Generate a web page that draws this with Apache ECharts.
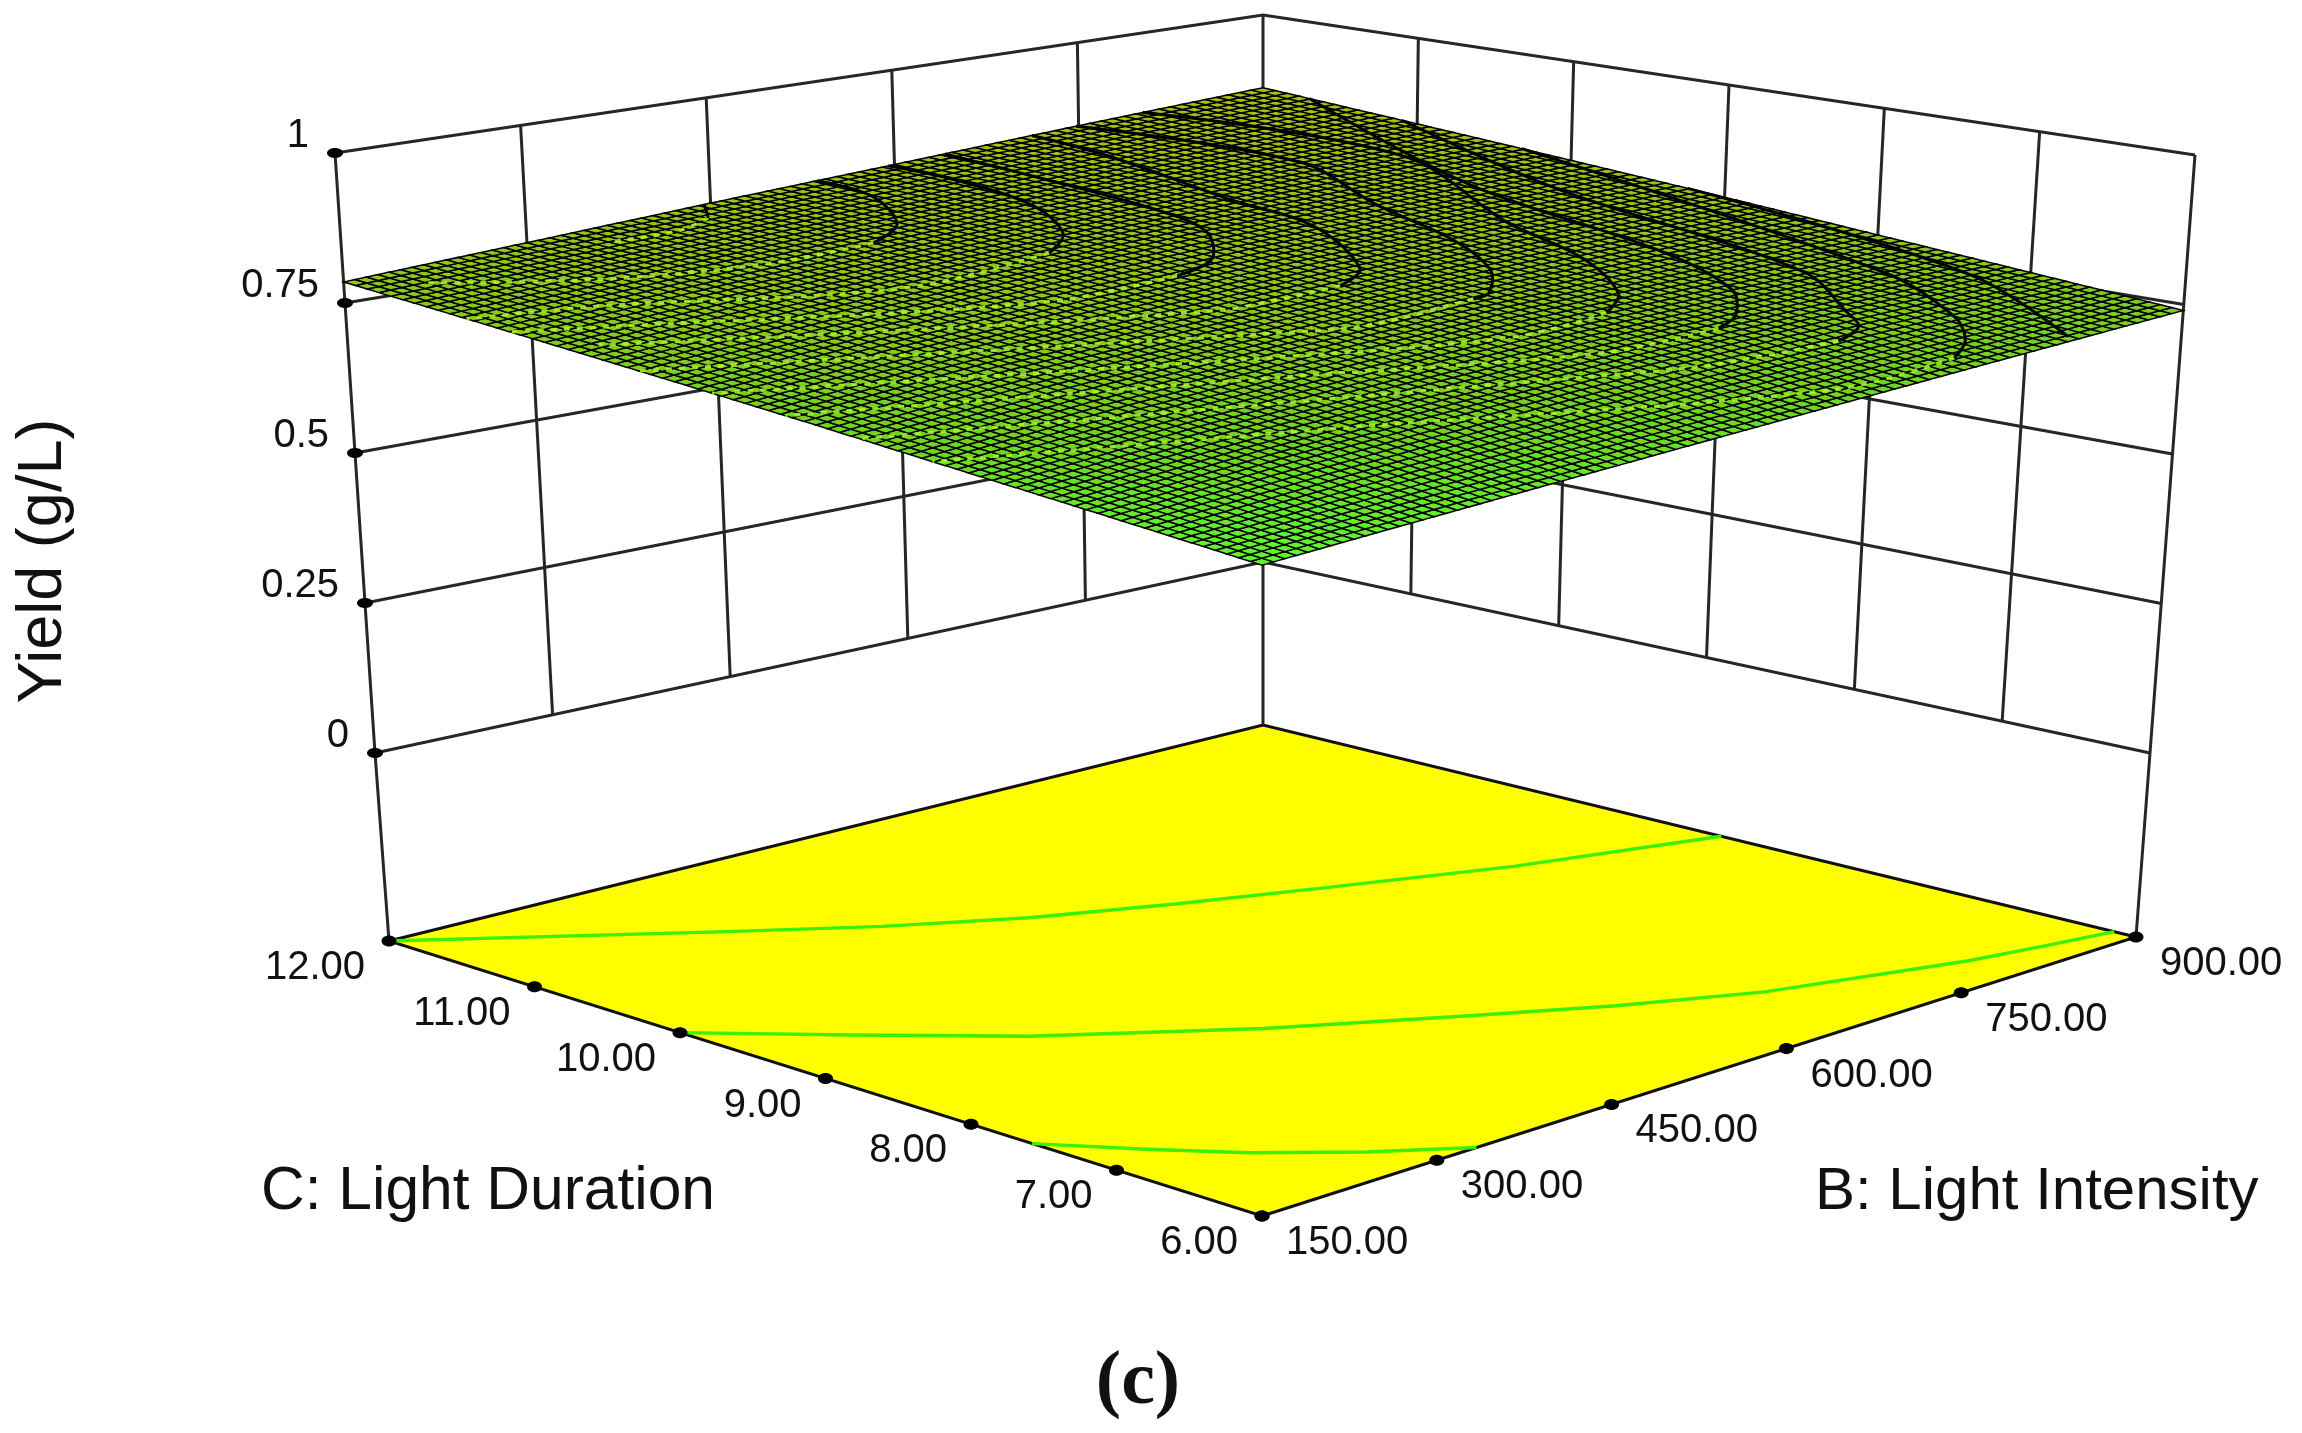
<!DOCTYPE html>
<html><head><meta charset="utf-8">
<style>html,body{margin:0;padding:0;background:#fff}#c{width:2302px;height:1433px}</style>
<script src="https://cdn.jsdelivr.net/npm/echarts@6/dist/echarts.min.js"></script>
</head><body><div id="c"></div>
<script>
// ---- values ----
const bTicks = [150, 300, 450, 600, 750, 900];          // B: Light Intensity
const cTicks = [6, 7, 8, 9, 10, 11, 12];                // C: Light Duration
const zTicks = [0, 0.25, 0.5, 0.75, 1];                 // Yield (g/L)
const zTickLabels = ['0', '0.25', '0.5', '0.75', '1'];
// yield at each (C row, B column) of the tick lattice
const yieldC6  = [0.670, 0.684, 0.698, 0.712, 0.726, 0.740];
const yieldC7  = [0.689, 0.712, 0.730, 0.745, 0.755, 0.761];
const yieldC8  = [0.708, 0.733, 0.752, 0.768, 0.776, 0.782];
const yieldC9  = [0.728, 0.754, 0.772, 0.788, 0.798, 0.804];
const yieldC10 = [0.747, 0.772, 0.792, 0.808, 0.818, 0.825];
const yieldC11 = [0.766, 0.788, 0.806, 0.822, 0.836, 0.846];
const yieldC12 = [0.785, 0.801, 0.818, 0.834, 0.851, 0.867];
const yieldRows = [yieldC6, yieldC7, yieldC8, yieldC9, yieldC10, yieldC11, yieldC12];
// contour lines on the base plane, [B, C]
const contourHigh = [[150,12],[328,11.04],[402,10.63],[481,10.25],[566,9.93],[655,9.62],[768,9.22],[900,8.85]];
const contourMid  = [[150,10],[225,9.42],[302,8.82],[415,8.11],[520,7.54],[595,7.13],[675,6.75],[800,6.36],[855,6.24],[900,6.15]];
const contourLow  = [[150,7.58],[192,7.13],[231,6.74],[282,6.34],[334,6]];
// dark hook lines seen on the surface, [B, C]
const darkLines = [
 [[445,12],[423,11.8]],
 [[537,12],[532,11.6],[493,11.13],[450,10.94]],
 [[595,12],[597,11.58],[583,10.96],[547,10.48],[508,10.26]],
 [[641,12],[637,11.4],[628,10.49],[610,10.05],[568,9.68],[526,9.57]],
 [[712,12],[706,11.45],[679,10.46],[667,9.8],[616,9.1],[580,8.94]],
 [[748,12],[777,10.78],[733,9.93],[705,9.2],[672,8.7],[634,8.4],[616,8.36]],
 [[802,12],[834,10.56],[760,9.3],[731,8.57],[688,7.99],[652,7.78]],
 [[900,11.7],[811,9.95],[778,8.45],[744,7.7],[705,7.36],[676,7.24]],
 [[900,11.1],[842,9.63],[805,7.72],[755,7.03],[739,6.83],[709,6.72]],
 [[900,10.32],[838,7.45],[796,6.66],[765,6.34],[735,6.17]],
 [[900,9.24],[871,7.16],[814,6.06]]
];
// brighter dotted rows continuing those hooks towards the low corner, [B, C]
const brightLines = [
 [[423,11.8],[388,11.71],[340,11.76]],
 [[450,10.94],[375,10.98],[277,11.27],[187,11.76]],
 [[508,10.26],[390,10.25],[228,10.96],[150,11.2]],
 [[526,9.57],[426,9.64],[196,10.71],[150,10.92]],
 [[580,8.94],[485,9.02],[170,10.5]],
 [[616,8.36],[529,8.36],[491,8.49],[150,10.08]],
 [[652,7.78],[578,7.75],[454,8.2],[150,9.6]],
 [[676,7.24],[591,7.28],[424,7.96],[150,9.12]],
 [[709,6.72],[616,6.82],[528,7.12],[150,8.64]],
 [[735,6.17],[637,6.18],[375,7.2],[150,8.16]]
];
// ---- view of the box ----
const W = 2302, H = 1433;
const view = {
  floor: {front:[1262,1216], right:[2136,937], back:[1263,725], left:[389,941]},
  zero:  {front:[1262,1010], right:[2150,753], back:[1263,562], left:[375,753]},
  one:   {front:[1262,346],  right:[2195,155], back:[1263,15],  left:[335,153]}
};
const bMin=bTicks[0], bMax=bTicks[bTicks.length-1], cMin=cTicks[0], cMax=cTicks[cTicks.length-1];
function onLevel(l,b,c){
  const f=(1-b)*(1-c), r=b*(1-c), k=b*c, e=(1-b)*c;
  return [f*l.front[0]+r*l.right[0]+k*l.back[0]+e*l.left[0],
          f*l.front[1]+r*l.right[1]+k*l.back[1]+e*l.left[1]];
}
function project(B,C,Z){
  const b=(B-bMin)/(bMax-bMin), c=(C-cMin)/(cMax-cMin);
  if(Z===null) return onLevel(view.floor,b,c);
  const p0=onLevel(view.zero,b,c), p1=onLevel(view.one,b,c);
  return [p0[0]+Z*(p1[0]-p0[0]), p0[1]+Z*(p1[1]-p0[1])];
}
function yieldAt(B,C){
  const bf=Math.min(bTicks.length-1.0001,(B-bMin)/(bMax-bMin)*(bTicks.length-1));
  const cf=Math.min(cTicks.length-1.0001,(C-cMin)/(cMax-cMin)*(cTicks.length-1));
  const i=Math.floor(bf), j=Math.floor(cf), s=bf-i, t=cf-j;
  return (1-s)*(1-t)*yieldRows[j][i]+s*(1-t)*yieldRows[j][i+1]+s*t*yieldRows[j+1][i+1]+(1-s)*t*yieldRows[j+1][i];
}
const ramp=[[0.67,[96,245,50]],[0.72,[112,212,34]],[0.78,[140,200,28]],[0.87,[172,190,14]]];
function rampColor(z){
  for(let k=1;k<ramp.length;k++){ if(z<=ramp[k][0]){
    const t=Math.max(0,(z-ramp[k-1][0])/(ramp[k][0]-ramp[k-1][0])), a=ramp[k-1][1], d=ramp[k][1];
    return `rgb(${a.map((v,n)=>Math.round(v+t*(d[n]-v))).join(',')})`; } }
  const e=ramp[ramp.length-1][1]; return `rgb(${e.join(',')})`;
}
const SUB_B=16, SUB_C=13; // mesh lines per tick interval
const LAT=[];
cTicks.slice(0,-1).forEach((_,j)=>bTicks.slice(0,-1).forEach((_,i)=>LAT.push([i,j])));

const labelFont='40px "Liberation Sans"', nameFont='60.5px "Liberation Sans"', nameFontB='60px "Liberation Sans"';
function txt(api,p,text,font,align,extra){
  const q=api.coord(p);
  return Object.assign({type:'text',x:q[0],y:q[1],silent:true,style:{x:0,y:0,text,font,fill:'#111',
    textAlign:align,align:align,textVerticalAlign:'middle',verticalAlign:'middle'}},extra||{});
}
function poly(api,pts,style,closed){
  const s=pts.map(p=>api.coord(p));
  return {type:closed?'polygon':'polyline',silent:true,shape:{points:s},style};
}
function dot(api,p,rx,ry){
  const q=api.coord(p);
  return {type:'ellipse',silent:true,shape:{cx:q[0],cy:q[1],rx:rx,ry:ry},style:{fill:'#000'}};
}
const gray={stroke:'#262626',lineWidth:3,fill:null};
function group(children){return {type:'group',children};}

const floorSeries={type:'custom',coordinateSystem:'cartesian2d',silent:true,animation:false,clip:false,data:[[0,0]],
 renderItem:(_,api)=>group([
  poly(api,[project(bMin,cMin,null),project(bMax,cMin,null),project(bMax,cMax,null),project(bMin,cMax,null)],
       {fill:'#ffff00',stroke:'#111',lineWidth:3},true),
  ...[contourHigh,contourMid,contourLow].map(l=>poly(api,l.map(q=>project(q[0],q[1],null)),{stroke:'#3cf000',lineWidth:3.4,fill:null},false))
 ])};
const wallSeries={type:'custom',coordinateSystem:'cartesian2d',silent:true,animation:false,clip:false,data:[[0,0]],
 renderItem:(_,api)=>{
  const c=[];
  zTicks.forEach(z=>{
    c.push(poly(api,[project(bMin,cMax,z),project(bMax,cMax,z),project(bMax,cMin,z)],gray,false));
  });
  bTicks.slice(1,-1).forEach(B=>c.push(poly(api,[project(B,cMax,0),project(B,cMax,1)],gray,false)));
  cTicks.slice(1,-1).forEach(C=>c.push(poly(api,[project(bMax,C,0),project(bMax,C,1)],gray,false)));
  [[bMin,cMax],[bMax,cMax],[bMax,cMin]].forEach(k=>c.push(poly(api,[project(k[0],k[1],null),project(k[0],k[1],0),project(k[0],k[1],1)],gray,false)));
  return group(c);
 }};
const surfaceSeries={type:'custom',coordinateSystem:'cartesian2d',silent:true,animation:false,clip:false,progressive:0,
 data:LAT,
 renderItem:(p,api)=>{
  const i=api.value(0), j=api.value(1), c=[];
  const B0=bTicks[i], B1=bTicks[i+1], C0=cTicks[j], C1=cTicks[j+1];
  const z00=yieldRows[j][i], z10=yieldRows[j][i+1], z11=yieldRows[j+1][i+1], z01=yieldRows[j+1][i];
  const at=(u,v)=>{
    const z=(1-u)*(1-v)*z00+u*(1-v)*z10+u*v*z11+(1-u)*v*z01;
    return {q:api.coord(project(B0+u*(B1-B0),C0+v*(C1-C0),z)),z};
  };
  for(let m=0;m<SUB_B;m++)for(let n=0;n<SUB_C;n++){
    const a=at(m/SUB_B,n/SUB_C), d=at((m+1)/SUB_B,n/SUB_C), e=at((m+1)/SUB_B,(n+1)/SUB_C), f=at(m/SUB_B,(n+1)/SUB_C);
    c.push({type:'polygon',silent:true,shape:{points:[a.q,d.q,e.q,f.q]},
      style:{fill:rampColor((a.z+e.z)/2),stroke:'#000',lineWidth:1.5}});
  }
  return group(c);
 }};
const bandSeries={type:'custom',coordinateSystem:'cartesian2d',silent:true,animation:false,clip:false,data:[[0,0]],
 renderItem:(_,api)=>group([
  ...brightLines.map(l=>{const s=poly(api,l.map(q=>project(q[0],q[1],yieldAt(q[0],q[1]))),{stroke:'#a8f830',lineWidth:3.5,fill:null,lineDash:[6,7],opacity:.85},false);s.shape.smooth=.35;return s;}),
  ...darkLines.map(l=>{const s=poly(api,l.map(q=>project(q[0],q[1],yieldAt(q[0],q[1]))),{stroke:'#000',lineWidth:3,fill:null},false);s.shape.smooth=.35;return s;})
 ])};
const markSeries={type:'custom',coordinateSystem:'cartesian2d',silent:true,animation:false,clip:false,data:[[0,0]],
 renderItem:(_,api)=>{
  const c=[];
  zTicks.forEach((z,k)=>{const p=project(bMin,cMax,z);
    c.push(dot(api,p,8,5));
    c.push(txt(api,[p[0]-26,p[1]-17],zTickLabels[k],labelFont,'right'));});
  bTicks.forEach(B=>{const p=project(B,cMin,null);
    c.push(dot(api,p,7.5,5.5));
    c.push(txt(api,[p[0]+24,p[1]+27],B.toFixed(2),labelFont,'left'));});
  cTicks.forEach(C=>{const p=project(bMin,C,null);
    c.push(dot(api,p,7.5,5.5));
    c.push(txt(api,[p[0]-24,p[1]+27],C.toFixed(2),labelFont,'right'));});
  c.push(txt(api,[261,1192],'C: Light Duration',nameFont,'left'));
  c.push(txt(api,[1815,1192],'B: Light Intensity',nameFontB,'left'));
  c.push(txt(api,[44,561],'Yield (g/L)',"63px \"Liberation Sans\"",'center',{rotation:Math.PI/2}));
  c.push(txt(api,[1138,1383],'(c)','bold 76px "Liberation Serif"','center'));
  return group(c);
 }};
const chart=echarts.init(document.getElementById('c'),null,{renderer:'canvas'});
chart.setOption({
  backgroundColor:'#ffffff',animation:false,
  grid:{left:0,right:0,top:0,bottom:0},
  xAxis:{type:'value',min:0,max:W,show:false},
  yAxis:{type:'value',min:0,max:H,inverse:true,show:false},
  series:[floorSeries,wallSeries,surfaceSeries,bandSeries,markSeries]
});
</script></body></html>
